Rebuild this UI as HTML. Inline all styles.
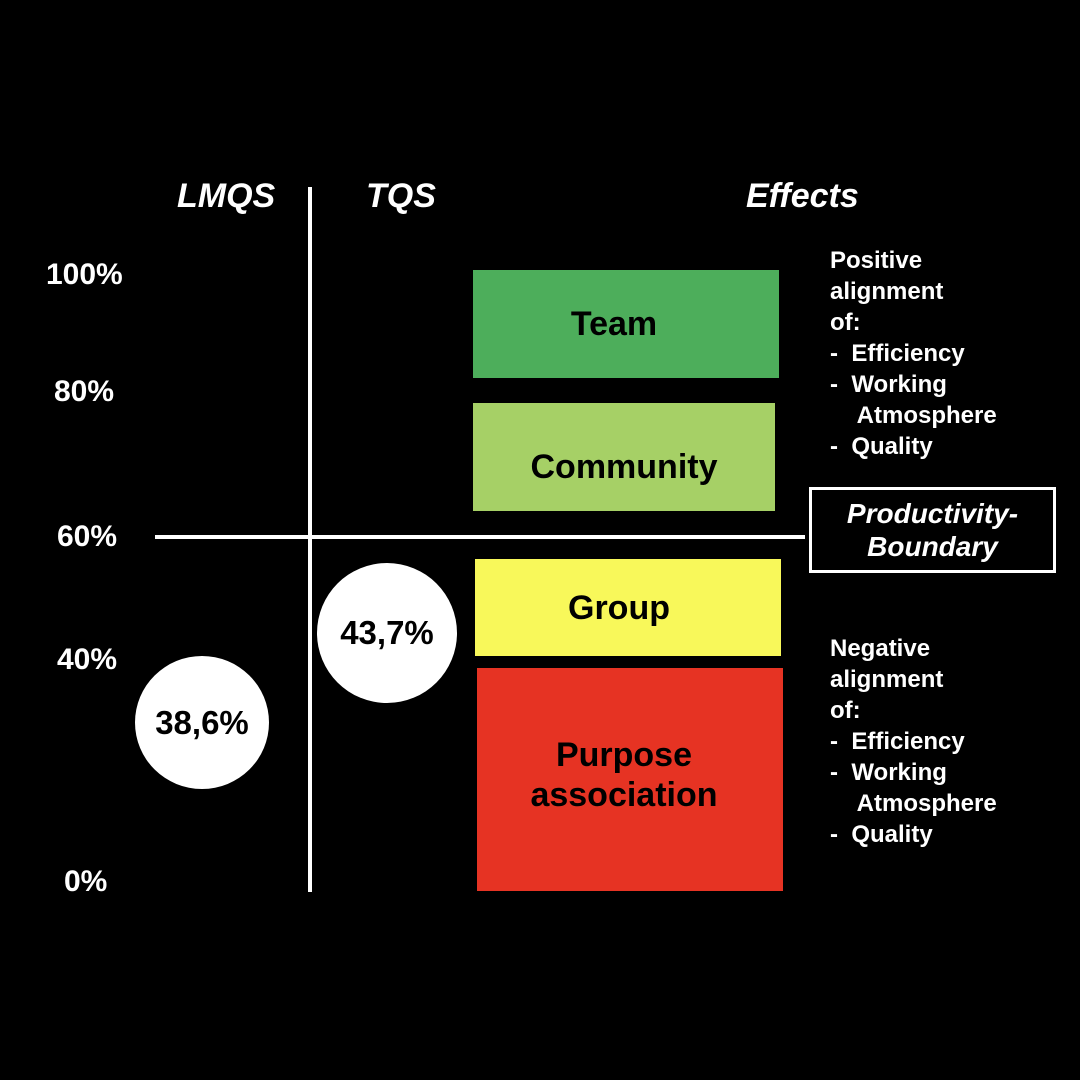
<!DOCTYPE html>
<html><head><meta charset="utf-8"><style>
html,body{margin:0;padding:0;background:#000;}
#c{position:relative;width:1080px;height:1080px;background:#000;overflow:hidden;font-family:"Liberation Sans",sans-serif;font-weight:bold;color:#fff;}
.a{position:absolute;}
.h{font-style:italic;font-size:34px;top:177px;}
.p{font-size:30px;}
.box{position:absolute;display:flex;align-items:center;justify-content:center;text-align:center;color:#000;font-size:34px;line-height:40px;}
.circ{position:absolute;background:#fff;border-radius:50%;display:flex;align-items:center;justify-content:center;color:#000;font-size:33px;}
.t{font-size:24px;line-height:31px;}
</style></head><body><div id="c">
<div class="a h" style="left:177px">LMQS</div>
<div class="a h" style="left:366px">TQS</div>
<div class="a h" style="left:746px">Effects</div>
<div class="a" style="left:308px;top:187px;width:4px;height:705px;background:#fff"></div>
<div class="a" style="left:155px;top:535px;width:650px;height:4px;background:#fff"></div>
<div class="a p" style="left:46px;top:258px">100%</div>
<div class="a p" style="left:54px;top:375px">80%</div>
<div class="a p" style="left:57px;top:520px">60%</div>
<div class="a p" style="left:57px;top:643px">40%</div>
<div class="a p" style="left:64px;top:865px">0%</div>
<div class="box" style="left:473px;top:270px;width:306px;height:108px;background:#4dae5b;padding-right:24px;box-sizing:border-box">Team</div>
<div class="box" style="left:473px;top:403px;width:302px;height:108px;background:#a6d066;padding-top:20px;box-sizing:border-box">Community</div>
<div class="box" style="left:475px;top:559px;width:306px;height:97px;background:#f8f85a;padding-right:18px;box-sizing:border-box">Group</div>
<div class="box" style="left:477px;top:668px;width:306px;height:223px;background:#e63323;padding-bottom:10px;padding-right:12px;box-sizing:border-box">Purpose<br>association</div>
<div class="circ" style="left:317px;top:563px;width:140px;height:140px">43,7%</div>
<div class="circ" style="left:135px;top:656px;width:134px;height:133px">38,6%</div>
<div class="a" style="left:809px;top:487px;width:241px;height:80px;border:3px solid #fff;font-style:italic;font-size:28px;line-height:33px;text-align:center;display:flex;align-items:center;justify-content:center">Productivity-<br>Boundary</div>
<div class="a t" style="left:830px;top:245px">Positive<br>alignment<br>of:<br>-&nbsp; Efficiency<br>-&nbsp; Working<br>&nbsp;&nbsp;&nbsp;&nbsp;Atmosphere<br>-&nbsp; Quality</div>
<div class="a t" style="left:830px;top:633px">Negative<br>alignment<br>of:<br>-&nbsp; Efficiency<br>-&nbsp; Working<br>&nbsp;&nbsp;&nbsp;&nbsp;Atmosphere<br>-&nbsp; Quality</div>
</div></body></html>
